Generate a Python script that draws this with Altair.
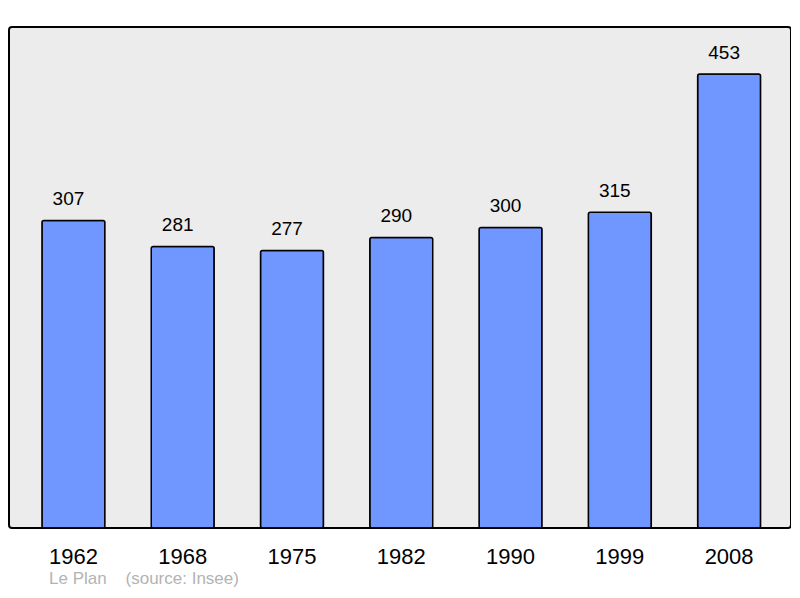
import altair as alt
import pandas as pd

years = ["1962", "1968", "1975", "1982", "1990", "1999", "2008"]
population = [307, 281, 277, 290, 300, 315, 453]

df = pd.DataFrame({"year": years, "pop": population})

FONT = "Liberation Sans"

x = alt.X("year:N", sort=years,
          scale=alt.Scale(paddingInner=0.424, paddingOuter=0.29, align=0.52),
          axis=alt.Axis(title=None, labelAngle=0, labelFontSize=22, labelFont=FONT,
                        labelColor="black", ticks=False, domain=False, labelPadding=18))
y = alt.Y("pop:Q", scale=alt.Scale(domain=[0, 500], nice=False), axis=None)

bars = alt.Chart(df).mark_bar(color="#7096ff", stroke="black", strokeWidth=1.5,
                              cornerRadius=2).encode(x=x, y=y)
labels = alt.Chart(df).mark_text(dx=-5, dy=-15, baseline="alphabetic", fontSize=19, font=FONT,
                                 color="black").encode(x=x, y=y, text="pop:Q")

chart = (bars + labels).properties(
    width=782, height=501,
    autosize=alt.AutoSizeParams(type="none"),
    padding={"left": 1, "top": 19, "right": 0, "bottom": 62},
    title=alt.TitleParams("Le Plan\u00a0\u00a0\u00a0\u00a0(source: Insee)",
                          orient="bottom", anchor="start", dx=40, offset=4,
                          fontSize=17, font=FONT, fontWeight="normal", color="#b3b3b3"),
).configure_view(fill="#ececec", stroke="black", strokeWidth=2, cornerRadius=3)

chart.save("out.html", embed_options={"renderer": "svg", "actions": False})
